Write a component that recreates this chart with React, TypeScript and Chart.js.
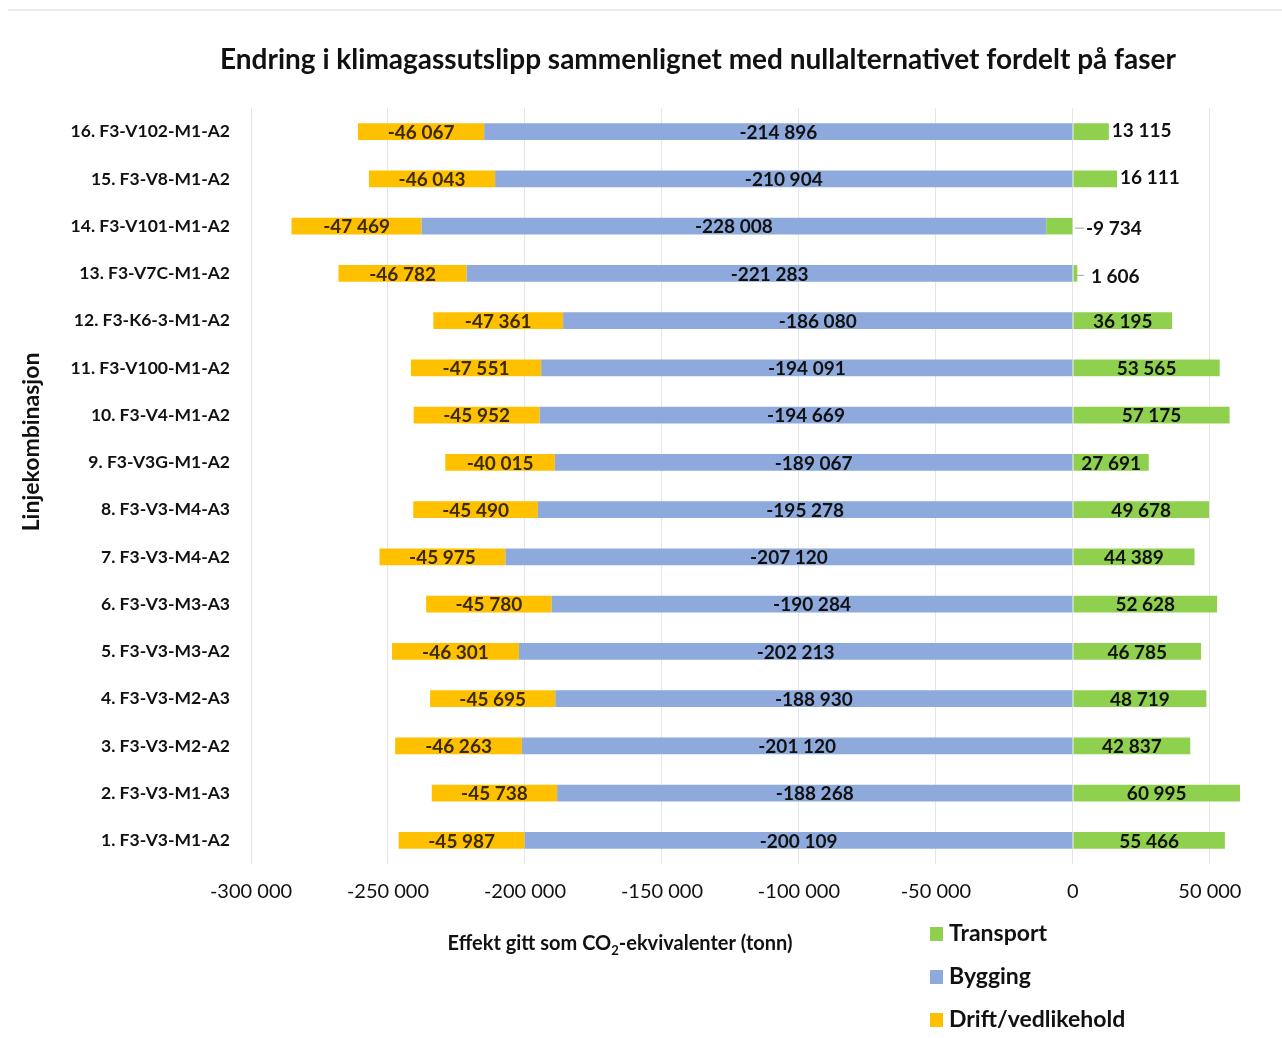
import React, { useEffect, useRef } from "react";
import { Chart, registerables } from "chart.js";

Chart.register(...registerables);

const categories = [
  "16. F3-V102-M1-A2",
  "15. F3-V8-M1-A2",
  "14. F3-V101-M1-A2",
  "13. F3-V7C-M1-A2",
  "12. F3-K6-3-M1-A2",
  "11. F3-V100-M1-A2",
  "10. F3-V4-M1-A2",
  "9. F3-V3G-M1-A2",
  "8. F3-V3-M4-A3",
  "7. F3-V3-M4-A2",
  "6. F3-V3-M3-A3",
  "5. F3-V3-M3-A2",
  "4. F3-V3-M2-A3",
  "3. F3-V3-M2-A2",
  "2. F3-V3-M1-A3",
  "1. F3-V3-M1-A2",
];

const transport = [13115, 16111, -9734, 1606, 36195, 53565, 57175, 27691, 49678, 44389, 52628, 46785, 48719, 42837, 60995, 55466];
const bygging = [-214896, -210904, -228008, -221283, -186080, -194091, -194669, -189067, -195278, -207120, -190284, -202213, -188930, -201120, -188268, -200109];
const drift = [-46067, -46043, -47469, -46782, -47361, -47551, -45952, -40015, -45490, -45975, -45780, -46301, -45695, -46263, -45738, -45987];

const xTickValues = [-300000, -250000, -200000, -150000, -100000, -50000, 0, 50000];

const seriesNames = ["Transport", "Bygging", "Drift/vedlikehold"];
const seriesColors = ["#8fd14f", "#8eaadc", "#ffc000"];

const titleText = "Endring i klimagassutslipp sammenlignet med nullalternativet fordelt på faser";
const yTitle = "Linjekombinasjon";

const FONT = 'Lato, "Liberation Sans", sans-serif';

function fmt(n: number): string {
  const s = Math.round(Math.abs(n)).toString();
  const parts: string[] = [];
  for (let i = s.length; i > 0; i -= 3) parts.unshift(s.slice(Math.max(0, i - 3), i));
  return (n < 0 ? "-" : "") + parts.join(" ");
}

const extrasPlugin = {
  id: "extras",
  beforeDraw(chart: any) {
    const ctx = chart.ctx;
    ctx.save();
    ctx.fillStyle = "#ffffff";
    ctx.fillRect(0, 0, chart.width, chart.height);
    ctx.strokeStyle = "#ececec";
    ctx.lineWidth = 2;
    ctx.beginPath();
    ctx.moveTo(8, 10);
    ctx.lineTo(chart.width, 10);
    ctx.stroke();
    ctx.restore();
  },
  afterDatasetsDraw(chart: any) {
    const ctx = chart.ctx;
    const xScale = chart.scales.x;
    const zeroPx = xScale.getPixelForValue(0);
    ctx.save();
    ctx.textBaseline = "middle";
    chart.data.datasets.forEach((ds: any, di: number) => {
      const meta = chart.getDatasetMeta(di);
      meta.data.forEach((el: any, i: number) => {
        const v = ds.data[i];
        const p = el.getProps(["x", "y", "base"], true);
        const left = Math.min(p.x, p.base);
        const right = Math.max(p.x, p.base);
        ctx.font = `bold 19px ${FONT}`;
        ctx.fillStyle = di === 2 ? "#3a2a00" : "#111111";
        if (di === 0 && Math.abs(v) < 20000) {
          if (Math.abs(v) < 5000 || v < 0) {
            ctx.strokeStyle = "#9aa39a";
            ctx.lineWidth = 1;
            ctx.beginPath();
            ctx.moveTo(zeroPx + 2, p.y + 2);
            ctx.lineTo(zeroPx + 11, p.y + 2);
            ctx.stroke();
            ctx.textAlign = "left";
            ctx.fillText(fmt(v), zeroPx + (v < 0 ? 13 : 18), p.y + 3);
          } else {
            ctx.textAlign = "left";
            ctx.fillText(fmt(v), right + 3, p.y - 1);
          }
        } else {
          ctx.textAlign = "center";
          ctx.fillText(fmt(v), (left + right) / 2, p.y + 1);
        }
      });
    });
    ctx.restore();
  },
  afterDraw(chart: any) {
    const ctx = chart.ctx;
    ctx.save();
    // Title
    ctx.fillStyle = "#111111";
    ctx.textAlign = "center";
    ctx.textBaseline = "middle";
    ctx.font = `bold 28px ${FONT}`;
    ctx.fillText(titleText, 698, 60);

    // Y axis title
    ctx.save();
    ctx.translate(32, 442);
    ctx.rotate(-Math.PI / 2);
    ctx.font = `bold 23px ${FONT}`;
    ctx.fillText(yTitle, 0, 0);
    ctx.restore();

    // X axis title with subscript
    const y = 944;
    ctx.textAlign = "left";
    const p1 = "Effekt gitt som CO";
    const p2 = "2";
    const p3 = "-ekvivalenter (tonn)";
    ctx.font = `bold 20px ${FONT}`;
    const w1 = ctx.measureText(p1).width;
    const w3 = ctx.measureText(p3).width;
    ctx.font = `bold 13px ${FONT}`;
    const w2 = ctx.measureText(p2).width;
    const total = w1 + w2 + w3;
    let x = 620 - total / 2;
    ctx.font = `bold 20px ${FONT}`;
    ctx.fillText(p1, x, y);
    x += w1;
    ctx.font = `bold 13px ${FONT}`;
    ctx.fillText(p2, x, y + 7);
    x += w2;
    ctx.font = `bold 20px ${FONT}`;
    ctx.fillText(p3, x, y);

    // Legend
    const ly = [934, 977, 1020];
    ctx.font = `bold 23px ${FONT}`;
    seriesNames.forEach((name, i) => {
      ctx.fillStyle = seriesColors[i];
      ctx.fillRect(930, ly[i] - 7, 13, 14);
      ctx.fillStyle = "#111111";
      ctx.fillText(name, 949, ly[i]);
    });
    ctx.restore();
  },
};

export default function App() {
  const ref = useRef<HTMLCanvasElement | null>(null);
  useEffect(() => {
    document.body.style.margin = "0";
    const canvas = ref.current!;
    const chart = new Chart(canvas, {
      type: "bar",
      data: {
        labels: categories,
        datasets: [
          { label: seriesNames[0], data: transport, backgroundColor: seriesColors[0] },
          { label: seriesNames[1], data: bygging, backgroundColor: seriesColors[1] },
          { label: seriesNames[2], data: drift, backgroundColor: seriesColors[2] },
        ],
      },
      options: {
        indexAxis: "y",
        responsive: false,
        animation: false,
        devicePixelRatio: 1,
        layout: { padding: { top: 108, right: 31, left: 0, bottom: 0 } },
        datasets: {
          bar: { barPercentage: 0.35, categoryPercentage: 1 },
        },
        plugins: {
          legend: { display: false },
          title: { display: false },
          tooltip: { enabled: false },
        },
        scales: {
          x: {
            stacked: true,
            min: -300000,
            max: 65000,
            ticks: {
              autoSkip: false,
              maxRotation: 0,
              padding: 16,
              color: "#111111",
              font: { family: FONT, size: 20 },
              callback: (v: any) => fmt(Number(v)),
            },
            afterBuildTicks: (scale: any) => {
              scale.ticks = xTickValues.map((v) => ({ value: v }));
            },
            afterFit: (scale: any) => {
              scale.height = 174;
            },
            grid: { color: "#e6e6e6", drawTicks: false },
            border: { display: false },
          },
          y: {
            stacked: true,
            ticks: {
              padding: 21,
              color: "#111111",
              font: { family: FONT, size: 17.5, weight: "bold" },
            },
            afterFit: (scale: any) => {
              scale.width = 251;
            },
            grid: { display: false, drawTicks: false },
            border: { display: false },
          },
        },
      } as any,
      plugins: [extrasPlugin],
    });
    return () => chart.destroy();
  }, []);
  return (
    <div style={{ width: 1282, height: 1038, overflow: "hidden", background: "#fff" }}>
      <canvas ref={ref} width={1282} height={1038} style={{ display: "block" }} />
    </div>
  );
}
